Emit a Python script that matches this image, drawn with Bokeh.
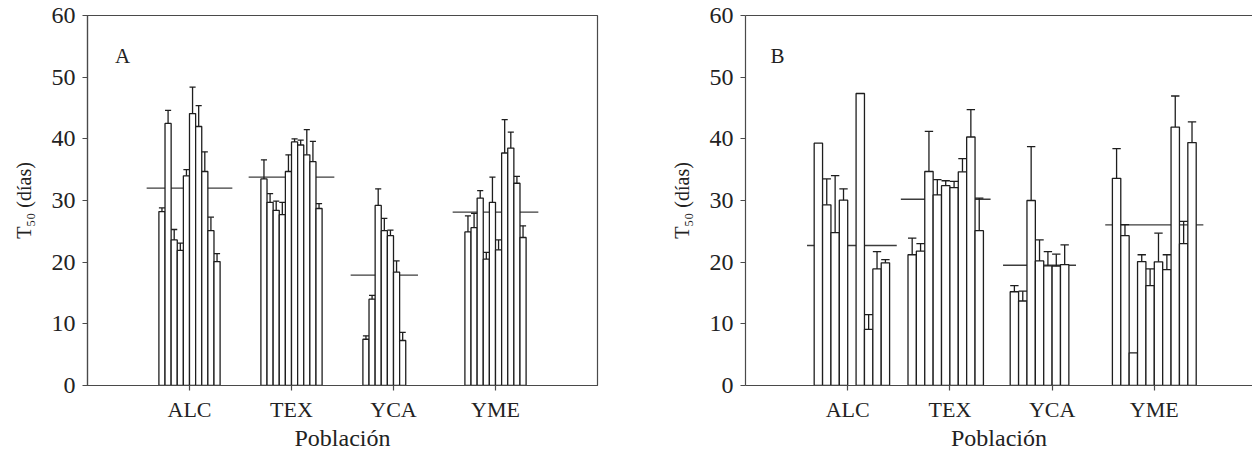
from bokeh.plotting import figure
from bokeh.layouts import row
from bokeh.models import FixedTicker, Range1d, Label, LinearAxis
from bokeh.embed import file_html
from bokeh.resources import INLINE

nan = float("nan")
populations = ["ALC", "TEX", "YCA", "YME"]
y_ticks = [0, 10, 20, 30, 40, 50, 60]

# Panel A: T50 per family (10 slots per population), standard errors, population mean
a_alc = [28.2, 42.5, 23.6, 21.9, 34.0, 44.1, 42.0, 34.7, 25.1, 20.1]
a_alc_se = [0.6, 2.1, 1.7, 1.2, 1.0, 4.3, 3.4, 3.2, 2.2, 1.3]
a_tex = [33.5, 29.7, 28.4, 27.7, 34.7, 39.5, 39.0, 37.4, 36.3, 28.7]
a_tex_se = [3.1, 1.4, 1.5, 2.0, 2.7, 0.5, 0.8, 4.1, 3.3, 0.8]
a_yca = [7.5, 14.0, 29.2, 25.1, 24.3, 18.4, 7.3, nan, nan, nan]
a_yca_se = [0.55, 0.6, 2.7, 2.0, 0.9, 1.8, 1.3, nan, nan, nan]
a_yme = [24.9, 25.6, 30.4, 20.5, 29.7, 22.0, 37.7, 38.5, 32.8, 24.0]
a_yme_se = [2.6, 2.3, 1.2, 1.1, 4.1, 1.6, 5.4, 2.6, 1.1, 1.9]
a_means = [32.0, 33.8, 17.9, 28.1]

# Panel B
b_alc = [nan, 39.3, 29.3, 24.8, 30.05, nan, 47.35, 9.1, 18.9, 19.9]
b_alc_se = [nan, nan, 4.2, 9.25, 1.85, nan, nan, 2.4, 2.8, 0.5]
b_tex = [21.2, 21.8, 34.7, 30.9, 32.4, 32.1, 34.65, 40.3, 25.1, nan]
b_tex_se = [2.7, 1.2, 6.5, 2.5, 0.8, 1.0, 2.15, 4.45, 5.3, nan]
b_yca = [15.2, 13.7, 30.0, 20.2, 19.4, 19.35, 19.6, nan, nan, nan]
b_yca_se = [1.0, 1.6, 8.75, 3.4, 2.3, 1.95, 3.2, nan, nan, nan]
b_yme = [33.6, 24.3, 5.3, 20.1, 16.2, 20.05, 18.8, 41.9, 23.0, 39.4]
b_yme_se = [4.8, 1.8, nan, 1.1, 2.7, 4.65, 2.4, 5.05, 3.6, 3.35]
b_means = [22.7, 30.2, 19.5, 26.05]

FONT = "Liberation Serif"
AXIS_COLOR = "#4a4a4a"
BAR_COLOR = "#1e1e1e"
TEXT_COLOR = "#222222"


def make_panel(groups, ses, means, letter, slot_w, margin, width, x_end,
               border_left, border_right, full_box):
    p = figure(width=width, height=457, output_backend="svg", toolbar_location=None,
               x_range=Range1d(0, x_end), y_range=Range1d(0, 60),
               min_border_left=border_left, min_border_right=border_right,
               min_border_top=15, min_border_bottom=72)
    p.grid.visible = False
    p.background_fill_color = "white"
    p.border_fill_color = "white"

    xs, tops, ex, e0, e1 = [], [], [], [], []
    for g, (vals, se) in enumerate(zip(groups, ses)):
        center = g + 1
        start = center - 5 * slot_w
        idx = [i for i, v in enumerate(vals) if v == v]
        for i, v in enumerate(vals):
            if v != v:
                continue
            x = start + (i + 0.5) * slot_w
            xs.append(x)
            tops.append(v)
            if se[i] == se[i]:
                ex.append(x)
                e0.append(v)
                e1.append(v + se[i])
        x0 = start + idx[0] * slot_w - margin
        x1 = start + (idx[-1] + 1) * slot_w + margin
        p.segment(x0=[x0], y0=[means[g]], x1=[x1], y1=[means[g]],
                  line_color="#3c3c3c", line_width=1.3)

    p.vbar(x=xs, top=tops, bottom=0, width=slot_w, fill_color="white",
           line_color=BAR_COLOR, line_width=1.3)
    p.segment(x0=ex, y0=e0, x1=ex, y1=e1, line_color=BAR_COLOR, line_width=1.3)
    p.segment(x0=[x - slot_w / 2 for x in ex], y0=e1,
              x1=[x + slot_w / 2 for x in ex], y1=e1,
              line_color=BAR_COLOR, line_width=1.3)

    # axes
    xax = p.below[0]
    yax = p.left[0]
    xax.ticker = FixedTicker(ticks=[1, 2, 3, 4])
    xax.major_label_overrides = {i + 1: n for i, n in enumerate(populations)}
    yax.ticker = FixedTicker(ticks=y_ticks)
    for ax in (xax, yax):
        ax.axis_line_color = AXIS_COLOR
        ax.axis_line_width = 1.2
        ax.major_tick_line_color = AXIS_COLOR
        ax.major_tick_line_width = 1.2
        ax.major_tick_in = 0
        ax.major_tick_out = 5
        ax.minor_tick_line_color = None
        ax.major_label_text_font = FONT
        ax.major_label_text_color = TEXT_COLOR
        ax.axis_label_text_font = FONT
        ax.axis_label_text_font_style = "normal"
        ax.axis_label_text_color = TEXT_COLOR
    xax.major_label_text_font_size = "22px"
    yax.major_label_text_font_size = "24px"
    xax.axis_label = "Población"
    xax.axis_label_text_font_size = "24px"
    xax.major_label_standoff = 6
    xax.axis_label_standoff = 0
    yax.axis_label = "T₅₀ (días)"
    yax.axis_label_text_font_size = "20px"
    yax.major_label_standoff = 7
    yax.axis_label_standoff = 14

    if full_box:
        p.outline_line_color = AXIS_COLOR
        p.outline_line_width = 1.2
    else:
        p.outline_line_color = None
        top = LinearAxis(ticker=FixedTicker(ticks=[]), axis_line_color=AXIS_COLOR,
                         axis_line_width=1.2, major_tick_line_color=None,
                         minor_tick_line_color=None, major_label_text_font_size="0px")
        p.add_layout(top, "above")

    p.add_layout(Label(x=0.27 if full_box else 0.245, y=53.4, text=letter,
                       text_font=FONT, text_font_size="21px", text_color=TEXT_COLOR,
                       text_baseline="alphabetic"))
    return p


pa = make_panel([a_alc, a_tex, a_yca, a_yme], [a_alc_se, a_tex_se, a_yca_se, a_yme_se],
                a_means, "A", 0.06, 0.12, 620, 5.0, 87, 23, True)
pb = make_panel([b_alc, b_tex, b_yca, b_yme], [b_alc_se, b_tex_se, b_yca_se, b_yme_se],
                b_means, "B", 0.082, 0.07, 632, 507 / 102.2, 125, 0, False)

layout = row(pa, pb)
open("out.html", "w").write(file_html(layout, INLINE))
